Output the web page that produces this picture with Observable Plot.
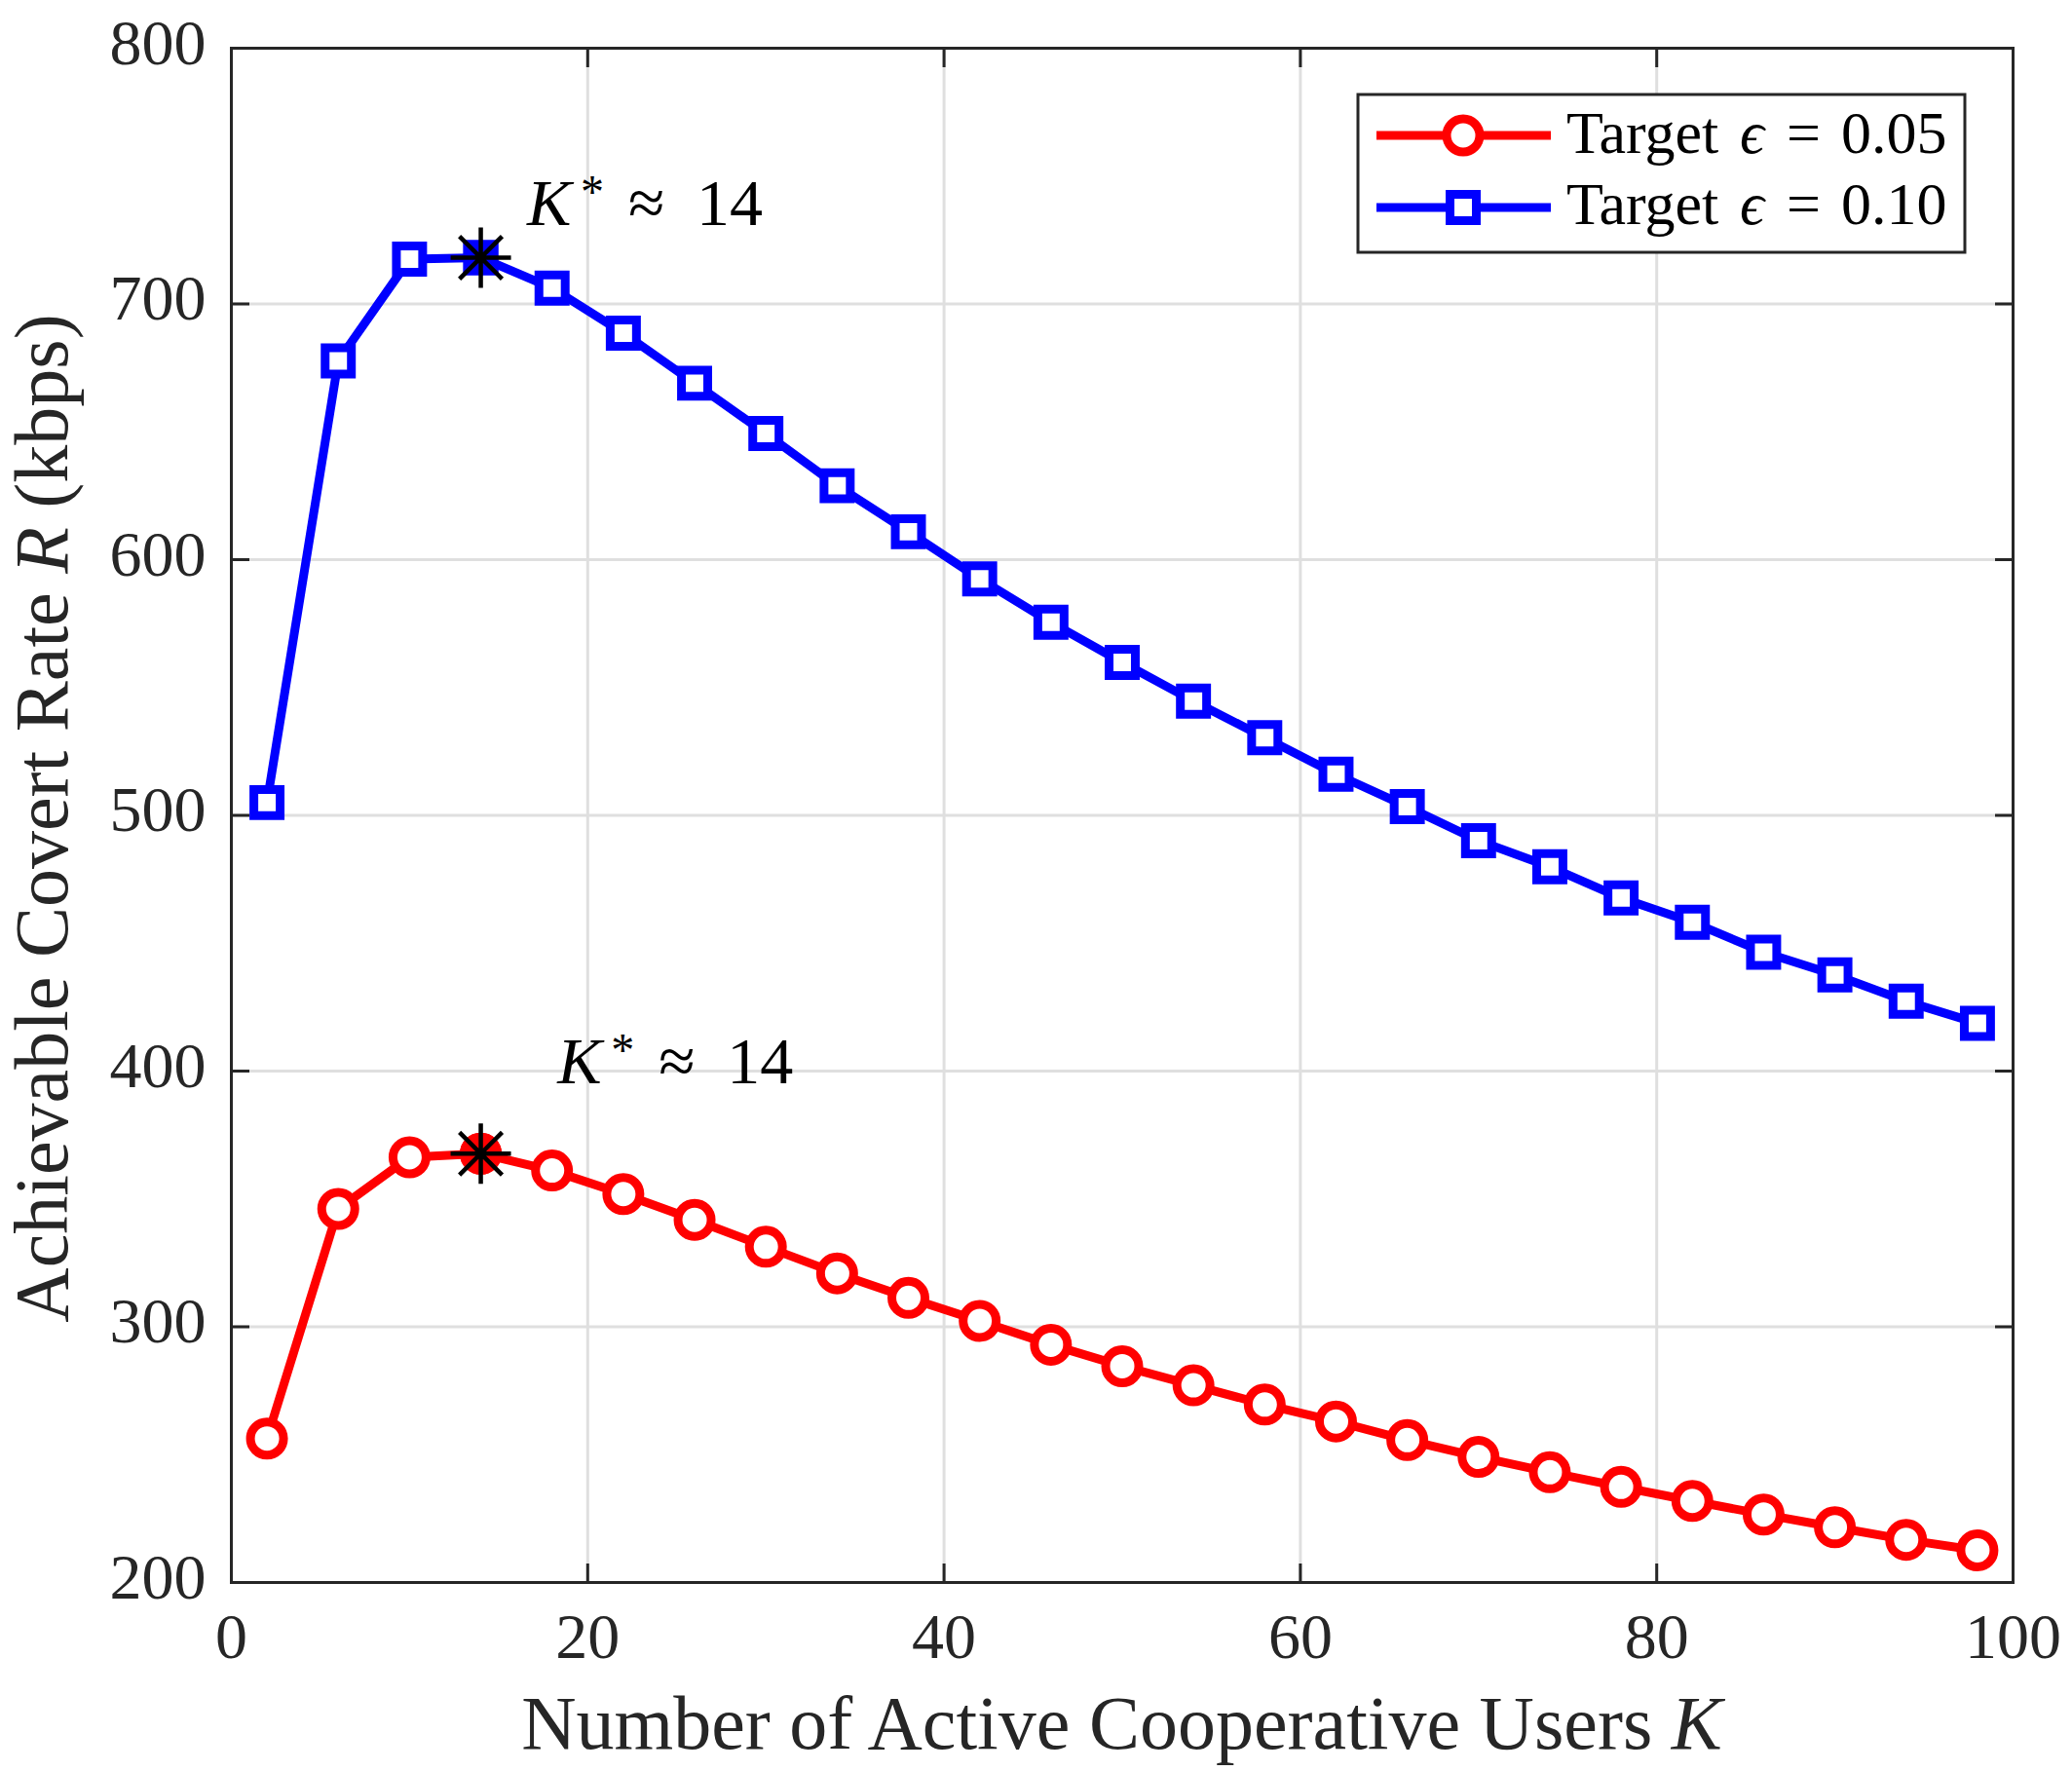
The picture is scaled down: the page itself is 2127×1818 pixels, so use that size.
<!DOCTYPE html>
<html><head><meta charset="utf-8">
<script src="https://cdn.jsdelivr.net/npm/d3@7"></script>
<script src="https://cdn.jsdelivr.net/npm/@observablehq/plot@0.6"></script>
<style>
body{margin:0;background:#fff;}
svg text{font-family:"Liberation Serif","DejaVu Serif",serif;}
</style></head><body><div id="chart"></div>
<script>
// ---- data ----
const users = [2,6,10,14,18,22,26,30,34,38,42,46,50,54,58,62,66,70,74,78,82,86,90,94,98];
const rateEps005 = [256.3,346.1,366.3,367.7,361.1,351.9,341.8,331.3,320.9,311.3,302.3,293.0,284.6,277.1,269.6,263.0,255.7,249.1,243.1,237.4,231.9,226.6,221.6,216.7,212.6];
const rateEps010 = [505.0,677.7,717.5,718.1,706.2,688.6,669.0,649.3,628.9,610.9,592.5,575.5,559.8,544.7,530.4,516.1,503.4,490.1,479.9,467.7,458.2,446.5,437.6,427.3,418.7];
const seriesLabels = ["0.05", "0.10"];
const seriesColors = ["#ff0000", "#0000ff"];
const xTicks = [0,20,40,60,80,100];
const yTicks = [200,300,400,500,600,700,800];
const annotationK = [18.3, 16.6];      // red, blue
const annotationR = [395.4, 730.7];
const annotationValue = "14";

// ---- tables ----
const redData = users.map((k,i)=>({K:k, R:rateEps005[i]}));
const blueData = users.map((k,i)=>({K:k, R:rateEps010[i]}));
const peakOf = d => d.reduce((a,b)=> b.R > a.R ? b : a);
const redPeak = [peakOf(redData)], bluePeak = [peakOf(blueData)];
const annData = annotationK.map((k,i)=>({K:k, R:annotationR[i]}));

const asterisk8 = {draw(ctx, size){
  const r = Math.sqrt(size/Math.PI), d = r*Math.SQRT1_2;
  ctx.moveTo(0,-r); ctx.lineTo(0,r); ctx.moveTo(-r,0); ctx.lineTo(r,0);
  ctx.moveTo(-d,-d); ctx.lineTo(d,d); ctx.moveTo(-d,d); ctx.lineTo(d,-d);
}};

const W = 2127, H = 1818;
const axisColor = "#262626";
const tickFont = 66;

const plot = Plot.plot({
  width: W, height: H,
  marginLeft: 237, marginRight: 61, marginTop: 49, marginBottom: 194,
  x: {domain: [0,100]},
  y: {domain: [200,800]},
  marks: [
    Plot.gridX(xTicks, {stroke:"#dfdfdf", strokeOpacity:1, strokeWidth:3}),
    Plot.gridY(yTicks, {stroke:"#dfdfdf", strokeOpacity:1, strokeWidth:3}),
    Plot.line(redData, {x:"K", y:"R", stroke: seriesColors[0], strokeWidth: 9}),
    Plot.dot(redData, {x:"K", y:"R", r: 17, stroke: seriesColors[0], fill:"white", strokeWidth: 9}),
    Plot.line(blueData, {x:"K", y:"R", stroke: seriesColors[1], strokeWidth: 9}),
    Plot.dot(blueData, {x:"K", y:"R", symbol:"square", r: 15.2, stroke: seriesColors[1], fill:"white", strokeWidth: 9}),
    Plot.dot(redPeak, {x:"K", y:"R", r: 17, stroke: seriesColors[0], fill: seriesColors[0], strokeWidth: 9}),
    Plot.dot(bluePeak, {x:"K", y:"R", symbol:"square", r: 15.2, stroke: seriesColors[1], fill: seriesColors[1], strokeWidth: 9}),
    Plot.dot(redPeak.concat(bluePeak), {x:"K", y:"R", symbol: asterisk8, r: 31, stroke:"black", fill:"none", strokeWidth: 4.5}),
    Plot.text(annData, {x:"K", y:"R", text: () => "K* ≈ " + annotationValue, textAnchor:"start", lineAnchor:"bottom", fontSize: 68, fill:"black"}),
    // tick labels
    Plot.axisX(xTicks, {anchor:"bottom", tickSize:0, tickPadding:31, fontSize: tickFont, fill: axisColor, label:null}),
    Plot.axisY(yTicks, {anchor:"left", tickSize:0, tickPadding:26, dy:-5, fontSize: tickFont, fill: axisColor, label:null}),
    // inward ticks on all four sides
    Plot.axisX(xTicks, {anchor:"bottom", tickSize:-19, tickFormat:()=>"", stroke: axisColor, strokeWidth:3, label:null}),
    Plot.axisX(xTicks, {anchor:"top", tickSize:-19, tickFormat:()=>"", stroke: axisColor, strokeWidth:3, label:null}),
    Plot.axisY(yTicks, {anchor:"left", tickSize:-19, tickFormat:()=>"", stroke: axisColor, strokeWidth:3, label:null}),
    Plot.axisY(yTicks, {anchor:"right", tickSize:-19, tickFormat:()=>"", stroke: axisColor, strokeWidth:3, label:null}),
    Plot.frame({stroke: axisColor, strokeWidth: 3})
  ]
});

document.getElementById("chart").appendChild(plot);
const svg = d3.select(plot);

// rich-text annotations K* ≈ 14
svg.selectAll('g[aria-label="text"] text').each(function(){
  const t = d3.select(this);
  t.text(null).attr("text-anchor","start");
  t.append("tspan").attr("x",0).attr("font-style","italic").text("K");
  t.append("tspan").attr("x",55).attr("y",-18).attr("font-size",48).text("*");
  t.append("tspan").attr("x",104).attr("y",0).text("≈");
  t.append("tspan").attr("x",174).attr("y",0).text(annotationValue);
});

// axis labels
const xl = svg.append("text").attr("transform","translate(1151.5,1795)")
  .attr("text-anchor","middle").attr("font-size",78).attr("fill",axisColor);
xl.append("tspan").text("Number of Active Cooperative Users ");
xl.append("tspan").attr("font-style","italic").text("K");

const yl = svg.append("text").attr("transform","translate(69,840) rotate(-90)")
  .attr("text-anchor","middle").attr("font-size",78).attr("fill",axisColor);
yl.append("tspan").text("Achievable Covert Rate ");
yl.append("tspan").attr("font-style","italic").text("R");
yl.append("tspan").text(" (kbps)");

// legend
const lg = svg.append("g").attr("text-anchor","start");
lg.append("rect").attr("x",1394).attr("y",97).attr("width",623).attr("height",162)
  .attr("fill","white").attr("stroke",axisColor).attr("stroke-width",3);
const rows = [{y:139, base:157}, {y:213, base:230}];
rows.forEach((row,i)=>{
  lg.append("line").attr("x1",1413).attr("x2",1592).attr("y1",row.y).attr("y2",row.y)
    .attr("stroke",seriesColors[i]).attr("stroke-width",9);
  if (i===0) {
    lg.append("circle").attr("cx",1502).attr("cy",row.y).attr("r",17)
      .attr("fill","white").attr("stroke",seriesColors[i]).attr("stroke-width",9);
  } else {
    lg.append("rect").attr("x",1502-13.5).attr("y",row.y-13.5).attr("width",27).attr("height",27)
      .attr("fill","white").attr("stroke",seriesColors[i]).attr("stroke-width",9);
  }
  const tx = lg.append("text").attr("transform",`translate(1608,${row.base})`)
    .attr("text-anchor","start").attr("font-size",62).attr("fill","black");
  tx.append("tspan").attr("x",0).text("Target");
  tx.append("tspan").attr("x",178).attr("font-style","italic").text("ϵ");
  tx.append("tspan").attr("x",226).text("=");
  tx.append("tspan").attr("x",282).text(seriesLabels[i]);
});
</script></body></html>
